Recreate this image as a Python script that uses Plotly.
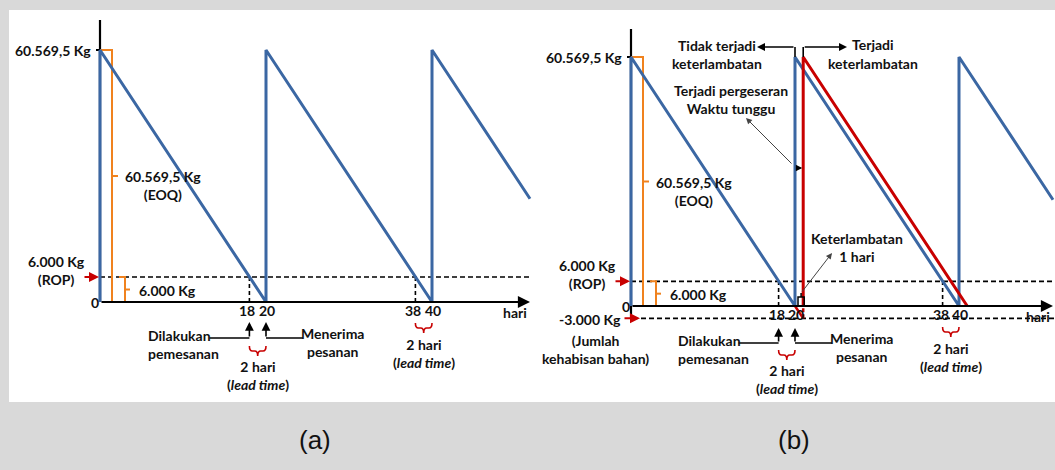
import plotly.graph_objects as go

W, H = 1055, 470

# ---- inventory model (kg per hari) ----
EOQ = 60569.5                 # order quantity = peak stock
ROP = 6000                    # reorder point
STOCKOUT = -3000              # shortage while the late order is awaited
CYCLE_LENGTH = 20             # days for the stock to run down to zero
CYCLE_STARTS = [0, 20, 40]    # days a replenishment arrives
ORDER_DAYS = [18, 38]         # stock reaches the ROP -> order placed
RECEIVE_DAYS = [20, 40]       # order received after the lead time
LATE_ARRIVAL = 21             # delayed arrival in panel (b)
TICK_DAYS = [18, 20, 38, 40]
TICK_LABELS = ["18", "20", "38", "40"]

EOQ_TEXT = "60.569,5 Kg"
ROP_TEXT = "6.000 Kg"
STOCKOUT_TEXT = "-3.000 Kg"

BLUE = "#3b67a3"
RED = "#c80000"
ORANGE = "#f0821e"
FONT = "Lato"
FS = 14

# panel geometry in pixels (origin, pixels per day, peak height ...)
PA = dict(x0=100, ppd=8.3, y0=302, ytop=50, xend=530, ytopaxis=20,
          left=9, right=535, xa="x", ya="y", dash_end=530)
PB = dict(x0=631, ppd=8.2, y0=306, ytop=57, xend=1053, ytopaxis=29,
          left=535, right=1055, xa="x2", ya="y2", dash_end=1055)
TOP, BOTTOM = 10, 402


def day_at(p, px):
    return (px - p["x0"]) / p["ppd"]


def val_at(p, py):
    return (p["y0"] - py) / (p["y0"] - p["ytop"]) * EOQ


def xpx(p, day):
    return p["x0"] + day * p["ppd"]


def ypx(p, v):
    return p["y0"] - v * (p["y0"] - p["ytop"]) / EOQ


def PX(px):
    return px / W


def PY(py):
    return 1 - py / H


fig = go.Figure()
shapes = []
annotations = []


def line_trace(p, xs, ys, color, width, dash=None):
    fig.add_trace(go.Scatter(x=xs, y=ys, mode="lines", xaxis=p["xa"], yaxis=p["ya"],
                             line=dict(color=color, width=width, dash=dash),
                             hoverinfo="skip", showlegend=False))


def label(x, y, s, xanchor="center", yanchor="middle", align="center",
          size=FS, family=FONT, bold=True):
    annotations.append(dict(x=PX(x), y=PY(y), xref="paper", yref="paper",
                            text=f"<b>{s}</b>" if bold else s, showarrow=False,
                            xanchor=xanchor, yanchor=yanchor, align=align,
                            font=dict(size=size, family=family, color="#111111")))


def arrow(hx, hy, tx, ty, color="black", width=1.5, head=2, size=1.0):
    annotations.append(dict(x=PX(hx), y=PY(hy), xref="paper", yref="paper",
                            ax=tx - hx, ay=ty - hy, text="", showarrow=True,
                            arrowhead=head, arrowsize=size, arrowwidth=width,
                            arrowcolor=color))


def seg(x0, y0, x1, y1, color="black", width=1.5, dash=None):
    shapes.append(dict(type="line", xref="paper", yref="paper",
                       x0=PX(x0), y0=PY(y0), x1=PX(x1), y1=PY(y1),
                       line=dict(color=color, width=width, dash=dash)))


def brace(xl, xr, top, color=RED, width=1.6):
    bar, tip = top + 5, top + 10
    xm = (xl + xr) / 2
    pts = (f"M {PX(xl)},{PY(top)} Q {PX(xl)},{PY(bar)} {PX(xl + 3)},{PY(bar)} "
           f"L {PX(xm - 3)},{PY(bar)} Q {PX(xm)},{PY(bar)} {PX(xm)},{PY(tip)} "
           f"Q {PX(xm)},{PY(bar)} {PX(xm + 3)},{PY(bar)} "
           f"L {PX(xr - 3)},{PY(bar)} Q {PX(xr)},{PY(bar)} {PX(xr)},{PY(top)}")
    shapes.append(dict(type="path", xref="paper", yref="paper", path=pts,
                       line=dict(color=color, width=width)))


def sawtooth(end_day):
    xs, ys = [], []
    for s in CYCLE_STARTS:
        xs += [s, s]
        ys += [0, EOQ]
        e = min(s + CYCLE_LENGTH, end_day)
        xs.append(e)
        ys.append(EOQ * (1 - (e - s) / CYCLE_LENGTH))
    return xs, ys


# white sheet behind both diagrams
shapes.append(dict(type="rect", xref="paper", yref="paper", x0=PX(9), x1=1,
                   y0=PY(BOTTOM), y1=PY(TOP), fillcolor="white",
                   line=dict(width=0), layer="below"))

for p in (PA, PB):
    axis_end = day_at(p, p["xend"])
    dash_end = day_at(p, p["dash_end"])
    late = p is PB

    # y axis and its top tick
    line_trace(p, [0, 0], [STOCKOUT if late else 0, val_at(p, p["ytopaxis"])], "black", 2.2)
    line_trace(p, [day_at(p, p["x0"] - 4), day_at(p, p["x0"] + 5)], [EOQ, EOQ], "black", 2)

    # reorder point and stock-out levels
    line_trace(p, [0, dash_end], [ROP, ROP], "black", 1.6, "5px,3px")
    od_x, od_y = [], []
    for d in ORDER_DAYS:
        od_x += [d, d, None]
        od_y += [0, ROP, None]
    line_trace(p, od_x, od_y, "black", 1.6, "4px,3px")
    if late:
        line_trace(p, [day_at(p, p["x0"] + 10), dash_end], [STOCKOUT, STOCKOUT],
                   "black", 1.6, "5px,3px")

    # orange brackets for EOQ and ROP
    b1, b0 = day_at(p, p["x0"] + 12), day_at(p, p["x0"] + 5)
    line_trace(p, [0, b1, b1, b0], [EOQ, EOQ, 0, 0], ORANGE, 2)
    line_trace(p, [b1, day_at(p, p["x0"] + 18)], [EOQ / 2, EOQ / 2], ORANGE, 2)
    r0, r1 = day_at(p, p["x0"] + 19), day_at(p, p["x0"] + 25)
    line_trace(p, [r0, r1, r1, r0], [ROP, ROP, 0, 0], ORANGE, 2)
    line_trace(p, [r1, day_at(p, p["x0"] + 30)], [ROP / 2, ROP / 2], ORANGE, 2)

    # inventory level
    sx, sy = sawtooth(axis_end)
    line_trace(p, sx, sy, BLUE, 3)

    if late:
        line_trace(p, [RECEIVE_DAYS[0], LATE_ARRIVAL], [0, STOCKOUT], RED, 2.5)
        line_trace(p, [LATE_ARRIVAL, LATE_ARRIVAL], [STOCKOUT, 0], RED, 2.5, "4px,2px")
        line_trace(p, [LATE_ARRIVAL, LATE_ARRIVAL, LATE_ARRIVAL + CYCLE_LENGTH],
                   [0, EOQ, 0], RED, 3)

    # x axis with arrow head
    annotations.append(dict(x=axis_end, y=0, xref=p["xa"], yref=p["ya"],
                            ax=0, ay=0, axref=p["xa"], ayref=p["ya"], text="",
                            showarrow=True, arrowhead=2, arrowsize=1.1,
                            arrowwidth=2.2, arrowcolor="black"))

    y0, ytop = p["y0"], p["ytop"]
    # value labels on the y axis
    label(p["x0"] - 7, ytop, EOQ_TEXT, xanchor="right")
    label(p["x0"] + 1, y0, "0", xanchor="right")
    rop_y = ypx(p, ROP)
    label(p["x0"] - 44, rop_y - 7, f"{ROP_TEXT}<br>(ROP)")
    arrow(p["x0"] - 1, rop_y, p["x0"] - 17, rop_y, color=RED, width=2, size=1)
    label(p["x0"] + 23, ypx(p, EOQ / 2) - 10, f"{EOQ_TEXT}<br>(EOQ)",
          xanchor="left", yanchor="top")
    label(p["x0"] + 37, (rop_y + y0) / 2 + 1, ROP_TEXT, xanchor="left")
    if late:
        so_y = ypx(p, STOCKOUT)
        label(p["x0"] - 8, so_y + 1, STOCKOUT_TEXT, xanchor="right")
        arrow(p["x0"] + 9, so_y, p["x0"] - 8, so_y, color=RED, width=2, size=1)
        label(p["x0"] - 36, so_y + 31, "(Jumlah<br>kehabisan bahan)")

    # day ticks and axis title
    for d, t in zip(TICK_DAYS, TICK_LABELS):
        nudge = -2 if d in ORDER_DAYS else 1
        label(xpx(p, d) + nudge, y0 + 8, t)
    label(p["xend"] - 1, y0 + 10, "hari", xanchor="right")

    # order / receipt arrows
    conn = y0 + (37 if late else 36)
    head = y0 + (22 if late else 20)
    xo, xr = xpx(p, ORDER_DAYS[0]), xpx(p, RECEIVE_DAYS[0])
    seg(xo - 40, conn, xo, conn, width=1.6)
    arrow(xo, head, xo, conn, width=1.6, size=1.1)
    seg(xr, conn, xr + 37, conn, width=1.6)
    arrow(xr, head, xr, conn, width=1.6, size=1.1)
    label(xo - 103, conn + 6, "Dilakukan<br>pemesanan", xanchor="left", align="left")
    label(xr + 66, conn + 4, "Menerima<br>pesanan")

    # lead-time braces
    for (a, b), top, ty in (((ORDER_DAYS[0], RECEIVE_DAYS[0]), y0 + 44, y0 + 73),
                            ((ORDER_DAYS[1], RECEIVE_DAYS[1]), y0 + 21, y0 + 51)):
        brace(xpx(p, a), xpx(p, b), top)
        label((xpx(p, a) + xpx(p, b)) / 2, ty, "2 hari<br>(<i>lead time</i>)")

# notes on the late delivery in panel (b)
p = PB
x20, x21 = xpx(p, RECEIVE_DAYS[0]), xpx(p, LATE_ARRIVAL)
seg(x20, p["ytop"], x20, 47, width=1.6)
arrow(757, 47, x20, 47, width=1.6, size=1)
seg(x21, p["ytop"], x21, 47, width=1.6)
arrow(847, 47, x21, 47, width=1.6, size=1)
label(717, 54, "Tidak terjadi<br>keterlambatan")
label(850, 45, "Terjadi", xanchor="left")
label(826, 63, "keterlambatan", xanchor="left")
label(731, 100, "Terjadi pergeseran<br>Waktu tunggu")
arrow(746, 118, 793, 165, color="#444444", width=1, size=1.2)
arrow(x21 - 1, 168, x20 + 1, 168, width=1.6, size=0.8)

# one-day delay bracket
bl, br, bt = x20 + 3, x21 + 1, p["y0"] - 9
mid = (bl + br) / 2
shapes.append(dict(type="path", xref="paper", yref="paper",
                   path=(f"M {PX(bl)},{PY(p['y0'])} L {PX(bl)},{PY(bt)} L {PX(br)},{PY(bt)} "
                         f"L {PX(br)},{PY(p['y0'])} M {PX(mid)},{PY(bt)} L {PX(mid)},{PY(bt - 4)}"),
                   line=dict(color="black", width=1.5)))
arrow(832, 253, mid, bt - 4, color="#444444", width=1, size=1.2)
label(857, 247, "Keterlambatan<br>1 hari")

# panel captions
label(315, 440, "(a)", size=26, family="Liberation Sans, Arial", bold=False)
label(794, 440, "(b)", size=26, family="Liberation Sans, Arial", bold=False)

axis_common = dict(visible=False, fixedrange=True, showgrid=False, zeroline=False)
layout_axes = {}
for p, xn, yn in ((PA, "xaxis", "yaxis"), (PB, "xaxis2", "yaxis2")):
    layout_axes[xn] = dict(domain=[PX(p["left"]), PX(p["right"])],
                           range=[day_at(p, p["left"]), day_at(p, p["right"])],
                           anchor=p["ya"], **axis_common)
    layout_axes[yn] = dict(domain=[PY(BOTTOM), PY(TOP)],
                           range=[val_at(p, BOTTOM), val_at(p, TOP)],
                           anchor=p["xa"], **axis_common)

fig.update_layout(width=W, height=H, margin=dict(l=0, r=0, t=0, b=0),
                  paper_bgcolor="#d9d9d9", plot_bgcolor="rgba(0,0,0,0)",
                  showlegend=False, shapes=shapes, annotations=annotations,
                  **layout_axes)

fig.write_html("out.html", config={"displayModeBar": False})
